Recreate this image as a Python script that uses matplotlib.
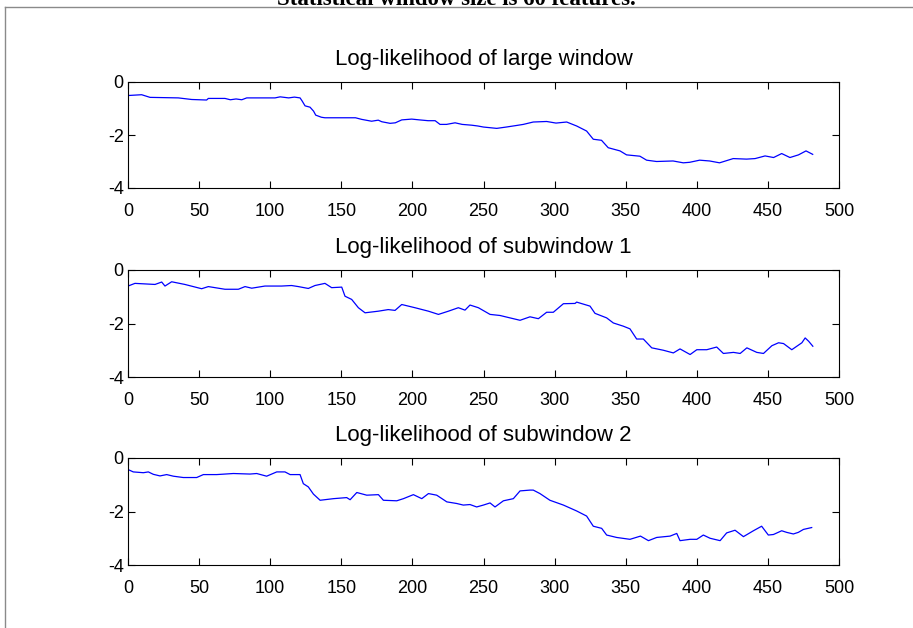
import matplotlib
matplotlib.use("Agg")
import matplotlib.pyplot as plt
from matplotlib.lines import Line2D

plt.rcParams['font.family'] = ['Liberation Sans', 'DejaVu Sans']
plt.rcParams['axes.unicode_minus'] = False

suptitle = "Statistical window size is 60 features."
titles = ["Log-likelihood of large window",
          "Log-likelihood of subwindow 1",
          "Log-likelihood of subwindow 2"]

x_ticks = [0, 50, 100, 150, 200, 250, 300, 350, 400, 450, 500]
y_ticks = [-4, -2, 0]

# Series 1: large window
x1 = [0, 9.6, 15.5, 35.4, 44.8, 55.3, 56.5, 68.2, 72, 76, 80, 83.5, 103.4, 107, 113, 117, 121,
      122.5, 124.5, 128, 130.5, 132, 136, 138.5, 150.3, 160, 164.3, 171.3, 176, 178.5, 184.3, 188,
      192.5, 199.5, 205, 211, 216, 219.4, 224, 230, 235, 241.7, 246, 250,
      259.3, 266, 273.3, 278, 285, 294.4, 301, 308.5, 315.5, 322.5, 327.2, 333, 337.7, 346,
      350.6, 360, 364.7, 371.7, 383.3, 390.5, 395, 402, 409, 416, 425.6, 435, 441, 448, 454,
      459.7, 465.5, 471.5, 476.8, 481.5]
y1 = [-0.51, -0.48, -0.58, -0.60, -0.66, -0.68, -0.62, -0.62, -0.67, -0.64, -0.67, -0.60, -0.60, -0.56, -0.60, -0.57, -0.60,
      -0.72, -0.90, -0.95, -1.10, -1.25, -1.33, -1.35, -1.35, -1.35, -1.41, -1.48, -1.44, -1.50, -1.56, -1.54,
      -1.43, -1.40, -1.43, -1.46, -1.46, -1.60, -1.60, -1.54, -1.60, -1.63, -1.66, -1.70,
      -1.75, -1.70, -1.64, -1.60, -1.51, -1.49, -1.55, -1.51, -1.66, -1.85, -2.16, -2.20, -2.48, -2.60,
      -2.75, -2.80, -2.95, -3.00, -2.98, -3.05, -3.03, -2.95, -2.98, -3.05, -2.89, -2.91, -2.89, -2.79, -2.85,
      -2.70, -2.85, -2.75, -2.60, -2.73]

# Series 2: subwindow 1
x2 = [0, 4.9, 19, 23.7, 26, 30.7, 40, 51.8, 56.5, 68.2, 77.6, 82.3, 87, 96.3, 108, 115, 119.8,
      126.8, 131.5, 138.5, 143.2, 150.3, 152.6, 157.3, 162, 166.7, 176, 183, 187.8, 192.5, 201.8,
      211.3, 218.3, 225.3, 232.3, 237, 240.5, 246.4,
      254.6, 261.6, 268.6, 275.7, 282.7, 288.6, 294.4, 299.1, 306.2, 314.4, 315.5, 324.9, 328.4,
      336.6, 341.3, 348.3, 353, 357.7, 362.4, 368.3, 376.5, 383.5, 388.2, 395.3, 400, 407, 414,
      418.7, 425.8, 430.5, 435.2, 442.2, 446.9, 452.8, 457.5, 461, 466.8, 473.9, 476.2, 478.6, 481.6]
y2 = [-0.60, -0.50, -0.54, -0.45, -0.60, -0.44, -0.54, -0.70, -0.62, -0.72, -0.72, -0.62, -0.68, -0.60, -0.60, -0.58, -0.62,
      -0.69, -0.58, -0.50, -0.66, -0.64, -0.98, -1.10, -1.41, -1.60, -1.54, -1.48, -1.51, -1.29, -1.41,
      -1.54, -1.66, -1.54, -1.41, -1.50, -1.31, -1.41,
      -1.66, -1.70, -1.79, -1.88, -1.75, -1.82, -1.58, -1.58, -1.26, -1.25, -1.20, -1.35, -1.62,
      -1.79, -1.98, -2.10, -2.20, -2.58, -2.58, -2.91, -3.00, -3.10, -2.95, -3.16, -2.98, -2.98, -2.88,
      -3.12, -3.08, -3.12, -2.91, -3.08, -3.12, -2.83, -2.72, -2.75, -2.98, -2.72, -2.54, -2.66, -2.85]

# Series 3: subwindow 2
x3 = [0, 3.7, 10.8, 14.3, 17.8, 22.5, 27.2, 31.9, 38.9, 48.3, 53, 62.4, 74.1, 85.8, 90.5, 97.5,
      104.6, 110.4, 114, 121, 123.3, 126.8, 130.4, 135.1, 144.5, 153.8, 156.2, 160.9, 167.9, 176.1,
      179.6, 189, 193.7, 200.7, 206.6, 211.3, 217.1, 224.2,
      231.1, 235.8, 240.5, 245.2, 249.9, 254.6, 258.1, 264, 271, 275.7, 282.7, 285, 289.7, 296.7,
      306.2, 315.5, 322.5, 327.2, 333.1, 336.6, 343.6, 353, 360.4, 366, 371.8, 381.2, 385.9, 388.2,
      395.3, 400, 404.6, 409.3, 416.4, 421, 426.9, 432.8, 439.8, 445.6, 450.3, 453.9, 459.7, 463.2,
      467.9, 471.4, 475, 480.8]
y3 = [-0.43, -0.52, -0.55, -0.52, -0.61, -0.67, -0.62, -0.68, -0.73, -0.73, -0.62, -0.62, -0.58, -0.60, -0.58, -0.68,
      -0.52, -0.52, -0.62, -0.62, -0.96, -1.08, -1.35, -1.58, -1.52, -1.48, -1.56, -1.29, -1.39, -1.37,
      -1.58, -1.60, -1.52, -1.37, -1.52, -1.33, -1.39, -1.64,
      -1.70, -1.76, -1.74, -1.83, -1.76, -1.68, -1.83, -1.60, -1.52, -1.23, -1.20, -1.20, -1.33, -1.58,
      -1.76, -1.98, -2.17, -2.55, -2.63, -2.88, -2.97, -3.04, -2.92, -3.09, -2.97, -2.92, -2.82, -3.09,
      -3.04, -3.04, -2.88, -3.00, -3.09, -2.80, -2.70, -2.94, -2.72, -2.55, -2.88, -2.86, -2.72, -2.78,
      -2.84, -2.78, -2.67, -2.60]

series = [(x1, y1), (x2, y2), (x3, y3)]

W, H = 913, 628
fig = plt.figure(figsize=(W / 100, H / 100), dpi=100)
fig.patch.set_facecolor('white')

# frame lines (page border)
fig.add_artist(Line2D([5 / W, 5 / W], [0, 1 - 7 / H], transform=fig.transFigure,
                      color='#8a8a8a', lw=1))
fig.add_artist(Line2D([5 / W, 1], [1 - 7 / H, 1 - 7 / H], transform=fig.transFigure,
                      color='#8a8a8a', lw=1))
fig.text(0.5, 1 - 5 / H, suptitle, ha='center', va='baseline',
         family=['Liberation Serif', 'DejaVu Serif'], fontweight='bold', fontsize=16.5)

left, right = 128 / W, 839 / W
tops = [82, 270, 458]
bots = [188, 377, 565]
for (xs, ys), title, t, b in zip(series, titles, tops, bots):
    ax = fig.add_axes([left, 1 - b / H, right - left, (b - t) / H])
    ax.plot(xs, ys, color='#0000ff', lw=0.9)
    ax.set_xlim(0, 500)
    ax.set_ylim(-4, 0)
    ax.set_xticks(x_ticks)
    ax.set_yticks(y_ticks)
    ax.set_xticklabels([str(v) for v in x_ticks])
    ax.set_yticklabels([str(v) for v in y_ticks])
    ax.tick_params(direction='in', top=True, right=True, length=5, width=0.8,
                   labelsize=13, colors='black')
    ax.tick_params(axis='x', pad=10.5)
    ax.tick_params(axis='y', pad=3)
    for s in ax.spines.values():
        s.set_linewidth(0.8)
    ax.set_title(title, fontsize=16, pad=12)

fig.savefig('out.png', dpi=100)
